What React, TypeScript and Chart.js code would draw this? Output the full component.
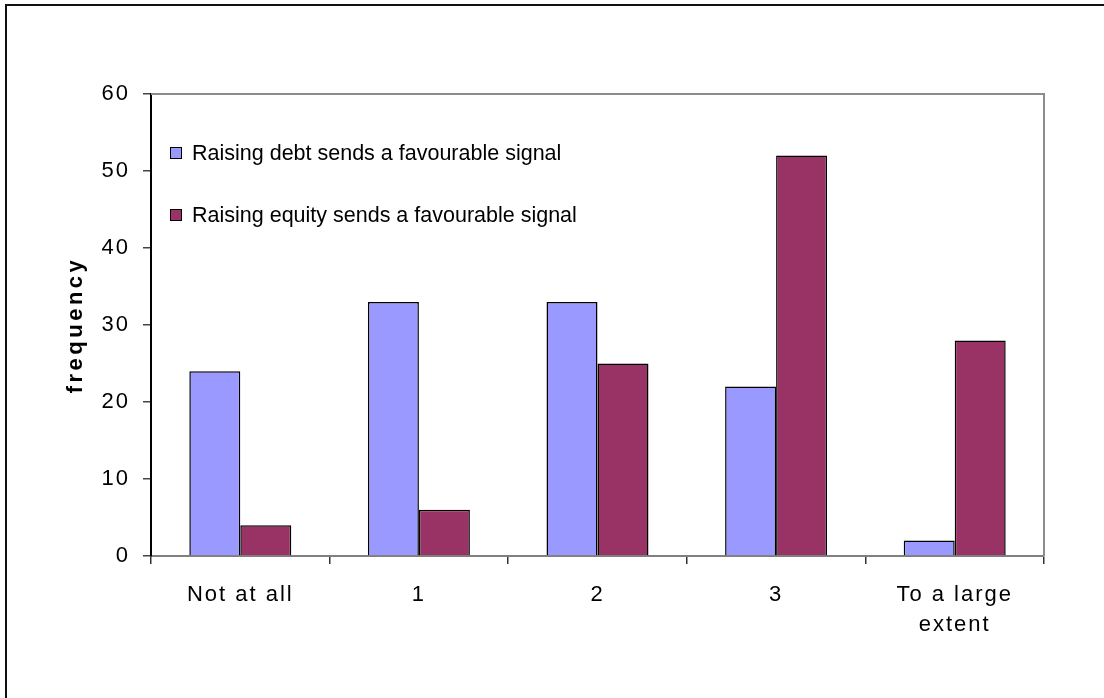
import React, { useEffect, useRef } from "react";
import { Chart, registerables } from "chart.js";

Chart.register(...registerables);

const categories: (string | string[])[] = ["Not at all", "1", "2", "3", ["To a large", "extent"]];
const debtLabel = "Raising debt sends a favourable signal";
const equityLabel = "Raising equity sends a favourable signal";
const debtValues = [24, 33, 33, 22, 2];
const equityValues = [4, 6, 25, 52, 28];
const yTitle = "frequency";
const yMin = 0;
const yMax = 60;
const yStep = 10;

const FONT = "'Liberation Sans', Arial, sans-serif";

const framePlugin = {
  id: "frameAndLegend",
  beforeDraw(chart: any) {
    const ctx = chart.ctx;
    ctx.letterSpacing = "2px";
    const ys = chart.scales.y;
    if (ys && !ys._patchedTitle) {
      const orig = ys.drawTitle.bind(ys);
      ys.drawTitle = () => {
        ctx.save();
        ctx.letterSpacing = "3.5px";
        orig();
        ctx.restore();
      };
      ys._patchedTitle = true;
    }
  },
  afterDraw(chart: any) {
    const ctx = chart.ctx;
    const { left, top, right, bottom } = chart.chartArea;
    ctx.save();
    ctx.letterSpacing = "0px";
    // top/right plot frame
    ctx.strokeStyle = "#8c8c8c";
    ctx.lineWidth = 2;
    ctx.beginPath();
    ctx.moveTo(left, top);
    ctx.lineTo(right, top);
    ctx.lineTo(right, bottom);
    ctx.stroke();
    // legend inside plot
    const datasets = chart.data.datasets;
    ctx.font = `21.5px ${FONT}`;
    ctx.textBaseline = "middle";
    ctx.textAlign = "left";
    datasets.forEach((ds: any, i: number) => {
      const cy = top + 59 + i * 62;
      const sx = left + 19;
      ctx.fillStyle = ds.backgroundColor;
      ctx.fillRect(sx, cy - 6, 12, 12);
      ctx.strokeStyle = "#000";
      ctx.lineWidth = 1;
      ctx.strokeRect(sx + 0.5, cy - 6 + 0.5, 11, 11);
      ctx.fillStyle = "#000";
      ctx.fillText(ds.label, left + 41, cy + 1);
    });
    ctx.restore();
  },
};

export default function App() {
  const ref = useRef<HTMLCanvasElement | null>(null);

  useEffect(() => {
    if (!ref.current) return;
    const chart = new Chart(ref.current, {
      type: "bar",
      data: {
        labels: categories as any,
        datasets: [
          {
            label: debtLabel,
            data: debtValues,
            backgroundColor: "#9999ff",
            borderColor: "#000000",
            borderWidth: 1.5,
            categoryPercentage: 0.571,
            barPercentage: 1,
          },
          {
            label: equityLabel,
            data: equityValues,
            backgroundColor: "#993366",
            borderColor: "#000000",
            borderWidth: 1.5,
            categoryPercentage: 0.571,
            barPercentage: 1,
          },
        ],
      },
      options: {
        responsive: false,
        animation: false,
        devicePixelRatio: 1,
        layout: { padding: { top: 94, right: 60, left: 0, bottom: 0 } },
        plugins: {
          legend: { display: false },
          tooltip: { enabled: false },
        },
        scales: {
          x: {
            grid: {
              offset: true,
              drawOnChartArea: false,
              drawTicks: true,
              tickLength: 8,
              color: "#333333",
              lineWidth: 1.5,
            },
            border: { color: "#808080", width: 2 },
            ticks: {
              color: "#000",
              font: { family: FONT, size: 22, lineHeight: 1.36 },
              padding: 16,
              maxRotation: 0,
              autoSkip: false,
            },
            afterFit: (s: any) => {
              s.height = 142;
            },
          },
          y: {
            min: yMin,
            max: yMax,
            grid: {
              drawOnChartArea: false,
              drawTicks: true,
              tickLength: 8,
              color: "#444444",
              lineWidth: 1.5,
            },
            border: { color: "#000000", width: 2 },
            ticks: {
              stepSize: yStep,
              color: "#000",
              font: { family: FONT, size: 22 },
              padding: 13,
            },
            title: {
              display: true,
              text: yTitle,
              color: "#000",
              font: { family: FONT, size: 22, weight: "bold", lineHeight: 1.2 },
              padding: { top: 63, bottom: 0 },
            },
            afterFit: (s: any) => {
              s.width = 151;
            },
          },
        },
      },
      plugins: [framePlugin],
    });
    return () => chart.destroy();
  }, []);

  return (
    <div
      style={{
        position: "fixed",
        left: 0,
        top: 0,
        width: 1104,
        height: 698,
        background: "#fff",
        overflow: "hidden",
      }}
    >
      <div
        style={{
          position: "absolute",
          left: 5,
          top: 4,
          width: 2000,
          height: 2000,
          borderLeft: "2px solid #111",
          borderTop: "2px solid #111",
        }}
      />
      <canvas
        ref={ref}
        width={1104}
        height={698}
        style={{ position: "absolute", left: 0, top: 0, width: 1104, height: 698 }}
      />
    </div>
  );
}
